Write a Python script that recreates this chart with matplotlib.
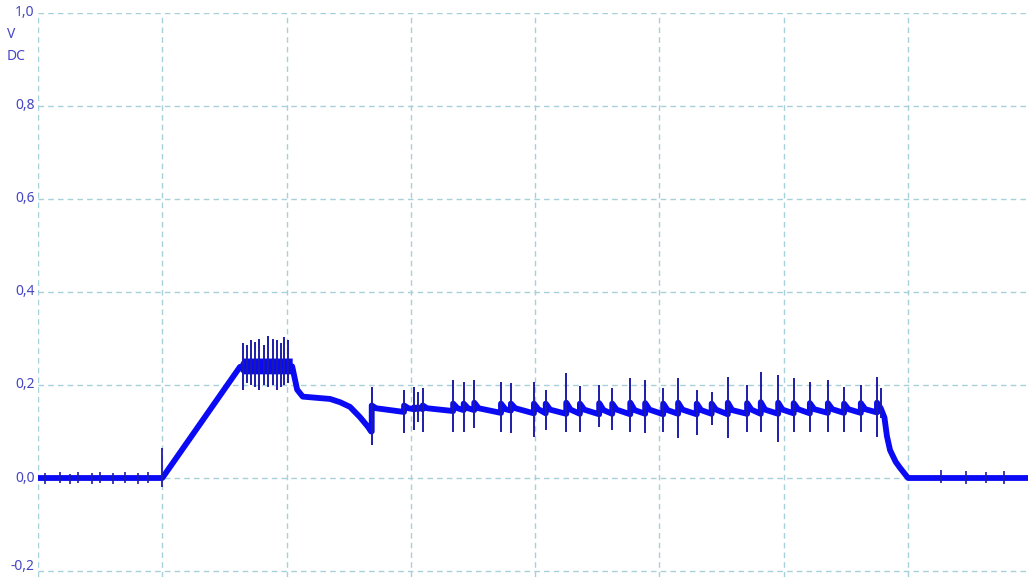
import matplotlib
matplotlib.use("Agg")
import matplotlib.pyplot as plt
import numpy as np

# ---------------- data (time in ms, 20 ms per division; voltage in V) ----------------
y_ticks = [-0.2, 0.0, 0.2, 0.4, 0.6, 0.8, 1.0]
y_tick_labels = ["-0,2", "0,0", "0,2", "0,4", "0,6", "0,8", "1,0"]
x_grid = [0, 20, 40, 60, 80, 100, 120, 140]

# slow envelope of the trace before the pulse train
head_t = [0.0, 20.0, 32.5, 40.9, 41.7, 42.6, 47.0, 48.6, 50.2, 51.8, 53.1, 53.6]
head_v = [0.0, 0.0, 0.239, 0.240, 0.190, 0.175, 0.170, 0.163, 0.153, 0.131, 0.110, 0.100]

# noisy plateau band
plateau_t = [32.5, 33.0, 40.9]
plateau_lo = [0.230, 0.224, 0.224]
plateau_hi = [0.248, 0.258, 0.258]

# plateau spikes
pspike_t = [33.0, 33.6, 34.3, 34.9, 35.6, 36.4, 37.0, 37.8, 38.5, 39.1, 39.6, 40.2]
pspike_top = [0.290, 0.286, 0.297, 0.292, 0.300, 0.286, 0.305, 0.300, 0.297, 0.290, 0.303, 0.297]
pspike_bot = [0.189, 0.205, 0.200, 0.195, 0.190, 0.200, 0.195, 0.200, 0.189, 0.195, 0.200, 0.205]

# pulse train spikes
spike_t = [53.7, 58.9, 60.5, 61.1, 61.9, 66.8, 68.5, 70.2, 74.5, 76.1, 79.8, 81.7, 85.0,
           87.2, 90.3, 92.4, 95.3, 97.7, 100.6, 103.0, 106.0, 108.4, 111.0, 114.1, 116.3,
           119.1, 121.6, 124.2, 127.1, 129.7, 132.4, 135.0, 135.6]
spike_top = [0.196, 0.190, 0.196, 0.186, 0.193, 0.211, 0.207, 0.211, 0.207, 0.204, 0.207,
             0.189, 0.225, 0.198, 0.200, 0.193, 0.215, 0.211, 0.193, 0.215, 0.189, 0.186,
             0.218, 0.200, 0.229, 0.222, 0.215, 0.207, 0.211, 0.196, 0.200, 0.218, 0.194]
spike_bot = [0.071, 0.096, 0.103, 0.121, 0.100, 0.100, 0.100, 0.107, 0.100, 0.096, 0.089,
             0.103, 0.100, 0.100, 0.110, 0.103, 0.100, 0.096, 0.100, 0.086, 0.092, 0.114,
             0.086, 0.100, 0.100, 0.078, 0.100, 0.100, 0.100, 0.100, 0.100, 0.089, 0.130]
# band level just before a spike, just after it, and at the knee of the decay
level_pre = [0.100, 0.142, 0.148, 0.148, 0.148, 0.144, 0.146, 0.146, 0.140, 0.145, 0.139,
             0.139, 0.138, 0.138, 0.137, 0.138, 0.137, 0.138, 0.137, 0.138, 0.137, 0.138,
             0.137, 0.138, 0.138, 0.138, 0.139, 0.139, 0.140, 0.140, 0.140, 0.141, 0.150]
level_post = [0.156, 0.156, 0.152, 0.152, 0.156, 0.160, 0.160, 0.162, 0.160, 0.160, 0.160,
              0.160, 0.162, 0.160, 0.161, 0.160, 0.162, 0.161, 0.160, 0.162, 0.160, 0.160,
              0.162, 0.161, 0.163, 0.162, 0.161, 0.161, 0.161, 0.160, 0.161, 0.162, 0.150]
level_knee = [0.150, 0.150, 0.150, 0.150, 0.150, 0.150, 0.150, 0.150, 0.148, 0.150, 0.148,
              0.147, 0.147, 0.147, 0.146, 0.147, 0.146, 0.147, 0.146, 0.147, 0.146, 0.147,
              0.146, 0.147, 0.147, 0.147, 0.148, 0.148, 0.148, 0.148, 0.148, 0.148, 0.148]
knee_delay = 0.7  # ms after each spike

# falling edge and tail
tail_t = [136.2, 136.6, 137.1, 138.0, 138.7, 140.0, 159.3]
tail_v = [0.130, 0.090, 0.060, 0.035, 0.022, 0.000, 0.000]

# edge spike at start of ramp
edge_t = [20.0]
edge_top = [0.065]
edge_bot = [-0.020]

# small glitches on the zero baseline
glitch_t = [1.1, 3.5, 5.1, 6.4, 8.7, 10.0, 12.1, 14.0, 16.1, 17.7,
            145.3, 149.3, 152.5, 155.4]
glitch_top = [0.010, 0.012, 0.008, 0.012, 0.010, 0.012, 0.010, 0.012, 0.010, 0.012,
              0.017, 0.014, 0.012, 0.016]
glitch_bot = [-0.012, -0.010, -0.012, -0.010, -0.012, -0.010, -0.012, -0.010, -0.012, -0.010,
              -0.010, -0.012, -0.010, -0.012]

# ---------------- build trace ----------------
trace_t = list(head_t)
trace_v = list(head_v)
n = len(spike_t)
for i, (t, pre, post, knee) in enumerate(zip(spike_t, level_pre, level_post, level_knee)):
    trace_t += [t, t]
    trace_v += [pre, post]
    nxt = spike_t[i + 1] if i + 1 < n else tail_t[0]
    if nxt - t > 1.5 * knee_delay:
        trace_t.append(t + knee_delay)
        trace_v.append(knee)
trace_t += tail_t
trace_v += tail_v

# ---------------- figure ----------------
W, H, DPI = 1028, 577, 100
fig = plt.figure(figsize=(W / DPI, H / DPI), dpi=DPI)
ax = fig.add_axes([38 / W, 0.0, 1 - 38 / W, 1 - 13 / H])

band_color = "#0a0af5"
spike_color = "#1c1ca8"
grid_color = "#a6d0da"
label_color = "#4646c4"

ax.set_xlim(0, 159.3)
ax.set_ylim(-0.2 - 6 / 465, 1.0)

for gx in x_grid:
    ax.axvline(gx, color=grid_color, lw=1.0, ls=(0, (4, 3)), zorder=0)
for gy in y_ticks:
    ax.axhline(gy, color=grid_color, lw=1.0, ls=(0, (4, 3)), zorder=0)

ax.fill_between(plateau_t, plateau_lo, plateau_hi, color=band_color, lw=0, zorder=2)
ax.plot(trace_t, trace_v, color=band_color, lw=4.2, solid_joinstyle="round", zorder=2)
ax.vlines(pspike_t, pspike_bot, pspike_top, color=spike_color, lw=1.4, zorder=3)
ax.vlines(spike_t, spike_bot, spike_top, color=spike_color, lw=1.4, zorder=3)
ax.vlines(edge_t, edge_bot, edge_top, color=spike_color, lw=1.3, zorder=3)
ax.vlines(glitch_t, glitch_bot, glitch_top, color=spike_color, lw=1.2, zorder=3)

for s in ax.spines.values():
    s.set_visible(False)
ax.set_xticks([])
ax.set_yticks([])

# y tick labels (the lowest one sits at the bottom edge, nudged up to stay inside)
for v, lab in zip(y_ticks, y_tick_labels):
    dy = 3 if v == y_ticks[0] else 0
    ax.annotate(lab, xy=(0, v), xycoords=("axes fraction", "data"),
                xytext=(-2.5, dy), textcoords="offset points",
                ha="right", va="center", color=label_color, fontsize=10,
                family="Noto Sans", annotation_clip=False)

fig.text(7 / W, 1 - 35 / H, "V", color=label_color, fontsize=10, family="Noto Sans",
         ha="left", va="center")
fig.text(7 / W, 1 - 56 / H, "DC", color=label_color, fontsize=10, family="Noto Sans",
         ha="left", va="center")

fig.savefig("out.png", dpi=DPI)
